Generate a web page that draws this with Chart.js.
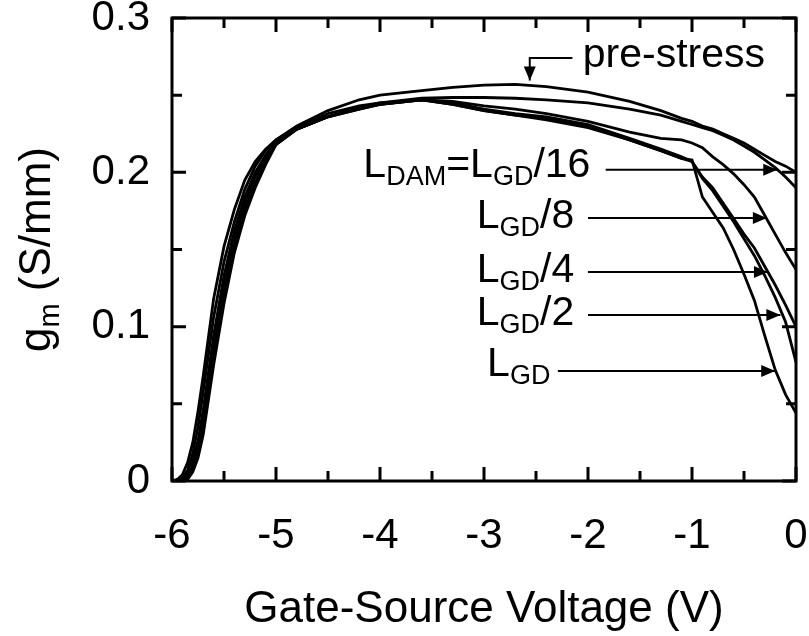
<!DOCTYPE html>
<html>
<head>
<meta charset="utf-8">
<script src="https://cdn.jsdelivr.net/npm/chart.js@4.4.1/dist/chart.umd.min.js"></script>
<style>
  html, body { margin: 0; padding: 0; background: #fff; }
  canvas { display: block; }
</style>
</head>
<body>
<canvas id="gmChart" width="809" height="636"></canvas>
<script>
// gate-source voltage (V), shared by every curve
const voltage = [-6, -5.95, -5.9, -5.85, -5.8, -5.75, -5.7, -5.6, -5.5, -5.4, -5.3, -5.2, -5.1, -5.0,
  -4.8, -4.5, -4.2, -4.0, -3.6, -3.3, -3.0, -2.7, -2.4, -2.0, -1.6, -1.3, -1.1, -1.0,
  -0.9, -0.8, -0.7, -0.6, -0.5, -0.4, -0.3, -0.2, -0.1, 0];

// transconductance gm (S/mm)
const gmPreStress = [0, 0.001, 0.004, 0.012, 0.025, 0.045, 0.068, 0.118, 0.152, 0.176, 0.195, 0.207, 0.215, 0.221,
  0.230, 0.240, 0.247, 0.250, 0.253, 0.255, 0.2565, 0.257, 0.2555, 0.252, 0.246, 0.240, 0.235, 0.233,
  0.230, 0.228, 0.225, 0.222, 0.219, 0.215, 0.211, 0.207, 0.204, 0.200];
const gmL16 = [0, 0, 0.002, 0.007, 0.018, 0.035, 0.058, 0.106, 0.142, 0.168, 0.189, 0.204, 0.214, 0.221,
  0.229, 0.238, 0.243, 0.245, 0.248, 0.2485, 0.2485, 0.248, 0.247, 0.245, 0.241, 0.237, 0.233, 0.231,
  0.229, 0.227, 0.224, 0.221, 0.217, 0.213, 0.208, 0.203, 0.197, 0.190];
const gmL8 = [0, 0, 0.001, 0.005, 0.013, 0.026, 0.046, 0.094, 0.133, 0.162, 0.184, 0.200, 0.211, 0.220,
  0.228, 0.236, 0.242, 0.245, 0.247, 0.246, 0.243, 0.241, 0.238, 0.233, 0.226, 0.222, 0.221, 0.219,
  0.216, 0.210, 0.205, 0.199, 0.192, 0.184, 0.172, 0.160, 0.148, 0.137];
const gmL4 = [0, 0, 0, 0.003, 0.010, 0.021, 0.039, 0.085, 0.126, 0.157, 0.180, 0.197, 0.209, 0.219,
  0.228, 0.236, 0.242, 0.244, 0.247, 0.245, 0.241, 0.238, 0.236, 0.231, 0.222, 0.215, 0.210, 0.207,
  0.197, 0.190, 0.180, 0.170, 0.160, 0.151, 0.139, 0.127, 0.114, 0.100];
const gmL2 = [0, 0, 0, 0.002, 0.008, 0.018, 0.034, 0.080, 0.120, 0.152, 0.176, 0.193, 0.207, 0.218,
  0.228, 0.236, 0.241, 0.244, 0.247, 0.244, 0.240, 0.237, 0.235, 0.230, 0.221, 0.214, 0.209, 0.207,
  0.196, 0.188, 0.178, 0.168, 0.157, 0.146, 0.133, 0.119, 0.103, 0.077];
const gmL1 = [0, 0, 0, 0.001, 0.006, 0.015, 0.030, 0.075, 0.115, 0.148, 0.172, 0.190, 0.205, 0.218,
  0.228, 0.236, 0.241, 0.244, 0.247, 0.244, 0.240, 0.237, 0.234, 0.229, 0.221, 0.214, 0.209, 0.208,
  0.184, 0.174, 0.164, 0.150, 0.134, 0.117, 0.094, 0.072, 0.056, 0.044];

const xTicks = [-6, -5, -4, -3, -2, -1, 0];
const yTicks = [0, 0.1, 0.2, 0.3];

const FONT = '"Liberation Sans", Arial, Helvetica, sans-serif';

function toPoints(ys) {
  return voltage.map((v, i) => ({ x: v, y: ys[i] }));
}

function curve(ys) {
  return {
    data: toPoints(ys),
    borderColor: '#000',
    borderWidth: 2.8,
    pointRadius: 0,
    showLine: true,
    fill: false,
    tension: 0
  };
}

// text with subscripts: parts = [[text, isSub], ...]
function richText(ctx, parts, x, y, size, align) {
  const subSize = Math.round(size * 0.66);
  let total = 0;
  parts.forEach(p => {
    ctx.font = (p[1] ? subSize : size) + 'px ' + FONT;
    total += ctx.measureText(p[0]).width;
  });
  let cx = align === 'center' ? x - total / 2 : x;
  ctx.textAlign = 'left';
  ctx.textBaseline = 'alphabetic';
  parts.forEach(p => {
    ctx.font = (p[1] ? subSize : size) + 'px ' + FONT;
    ctx.fillText(p[0], cx, p[1] ? y + size * 0.2 : y);
    cx += ctx.measureText(p[0]).width;
  });
}

function arrowHead(ctx, x1, y1, x2, y2) {
  const ang = Math.atan2(y2 - y1, x2 - x1);
  const len = 14, half = 6;
  ctx.beginPath();
  ctx.moveTo(x2, y2);
  ctx.lineTo(x2 - len * Math.cos(ang) + half * Math.sin(ang), y2 - len * Math.sin(ang) - half * Math.cos(ang));
  ctx.lineTo(x2 - len * Math.cos(ang) - half * Math.sin(ang), y2 - len * Math.sin(ang) + half * Math.cos(ang));
  ctx.closePath();
  ctx.fill();
}

// frame, inward ticks, titles and labels
const decorations = {
  id: 'decorations',
  afterDraw(chart) {
    const { ctx, chartArea: a, scales: { x, y } } = chart;
    ctx.save();
    ctx.strokeStyle = '#000';
    ctx.fillStyle = '#000';
    ctx.lineWidth = 3;
    ctx.strokeRect(a.left, a.top, a.width, a.height);

    ctx.beginPath();
    for (let i = 0; i <= 12; i++) {
      const v = -6 + i * 0.5;
      const px = x.getPixelForValue(v);
      const len = i % 2 === 0 ? 14 : 10;
      ctx.moveTo(px, a.bottom); ctx.lineTo(px, a.bottom - len);
      ctx.moveTo(px, a.top); ctx.lineTo(px, a.top + len);
    }
    for (let i = 0; i <= 6; i++) {
      const py = y.getPixelForValue(i * 0.05);
      const len = i % 2 === 0 ? 14 : 10;
      ctx.moveTo(a.left, py); ctx.lineTo(a.left + len, py);
      ctx.moveTo(a.right, py); ctx.lineTo(a.right - len, py);
    }
    ctx.stroke();

    // axis titles
    ctx.font = '44px ' + FONT;
    ctx.textAlign = 'center';
    ctx.textBaseline = 'alphabetic';
    ctx.fillText('Gate-Source Voltage (V)', (a.left + a.right) / 2, 622);

    ctx.save();
    ctx.translate(50, (a.top + a.bottom) / 2);
    ctx.rotate(-Math.PI / 2);
    richText(ctx, [['g', false], ['m', true], [' (S/mm)', false]], 0, 0, 44, 'center');
    ctx.restore();

    // annotations
    const P = (v, g) => [x.getPixelForValue(v), y.getPixelForValue(g)];
    ctx.lineWidth = 2;
    const size = 41;

    let t = P(-2.05, 0.268);
    richText(ctx, [['pre-stress', false]], t[0], t[1], size, 'left');
    const p1 = P(-2.15, 0.2741), p2 = P(-2.56, 0.2741), p3 = P(-2.56, 0.2595);
    ctx.beginPath();
    ctx.moveTo(p1[0], p1[1]); ctx.lineTo(p2[0], p2[1]); ctx.lineTo(p3[0], p3[1]);
    ctx.stroke();
    arrowHead(ctx, p2[0], p2[1], p3[0], p3[1]);

    const labels = [
      { parts: [['L', false], ['DAM', true], ['=L', false], ['GD', true], ['/16', false]], at: [-4.16, 0.197], from: [-1.83, 0.2016], tip: [-0.18, 0.2016] },
      { parts: [['L', false], ['GD', true], ['/8', false]], at: [-3.07, 0.164], from: [-2.0, 0.1704], tip: [-0.28, 0.1704] },
      { parts: [['L', false], ['GD', true], ['/4', false]], at: [-3.07, 0.129], from: [-2.0, 0.1355], tip: [-0.27, 0.1355] },
      { parts: [['L', false], ['GD', true], ['/2', false]], at: [-3.07, 0.101], from: [-2.0, 0.1076], tip: [-0.15, 0.1076] },
      { parts: [['L', false], ['GD', true]], at: [-2.97, 0.068], from: [-2.29, 0.0713], tip: [-0.20, 0.0713] }
    ];
    labels.forEach(l => {
      const tp = P(l.at[0], l.at[1]);
      richText(ctx, l.parts, tp[0], tp[1], size, 'left');
      const f = P(l.from[0], l.from[1]), e = P(l.tip[0], l.tip[1]);
      ctx.beginPath();
      ctx.moveTo(f[0], f[1]); ctx.lineTo(e[0], e[1]);
      ctx.stroke();
      arrowHead(ctx, f[0], f[1], e[0], e[1]);
    });
    ctx.restore();
  }
};

const ctx = document.getElementById('gmChart').getContext('2d');
new Chart(ctx, {
  type: 'scatter',
  data: {
    datasets: [curve(gmPreStress), curve(gmL16), curve(gmL8), curve(gmL4), curve(gmL2), curve(gmL1)]
  },
  options: {
    responsive: false,
    animation: false,
    layout: { padding: { top: 18, right: 13, left: 0, bottom: 0 } },
    plugins: { legend: { display: false }, tooltip: { enabled: false } },
    scales: {
      x: {
        type: 'linear',
        min: -6,
        max: 0,
        afterBuildTicks: s => { s.ticks = xTicks.map(v => ({ value: v })); },
        afterFit: s => { s.height = 155; s.paddingLeft = 0; s.paddingRight = 0; },
        grid: { display: false, drawTicks: false },
        border: { display: false },
        ticks: {
          color: '#000',
          font: { family: FONT, size: 42 },
          padding: 30,
          maxRotation: 0,
          callback: v => String(v)
        }
      },
      y: {
        type: 'linear',
        min: 0,
        max: 0.3,
        afterBuildTicks: s => { s.ticks = yTicks.map(v => ({ value: v })); },
        afterFit: s => { s.width = 172; s.paddingTop = 0; s.paddingBottom = 0; },
        grid: { display: false, drawTicks: false },
        border: { display: false },
        ticks: {
          color: '#000',
          font: { family: FONT, size: 42 },
          padding: 22,
          callback: v => (v === 0 ? '0' : v.toFixed(1))
        }
      }
    }
  },
  plugins: [decorations]
});
</script>
</body>
</html>
